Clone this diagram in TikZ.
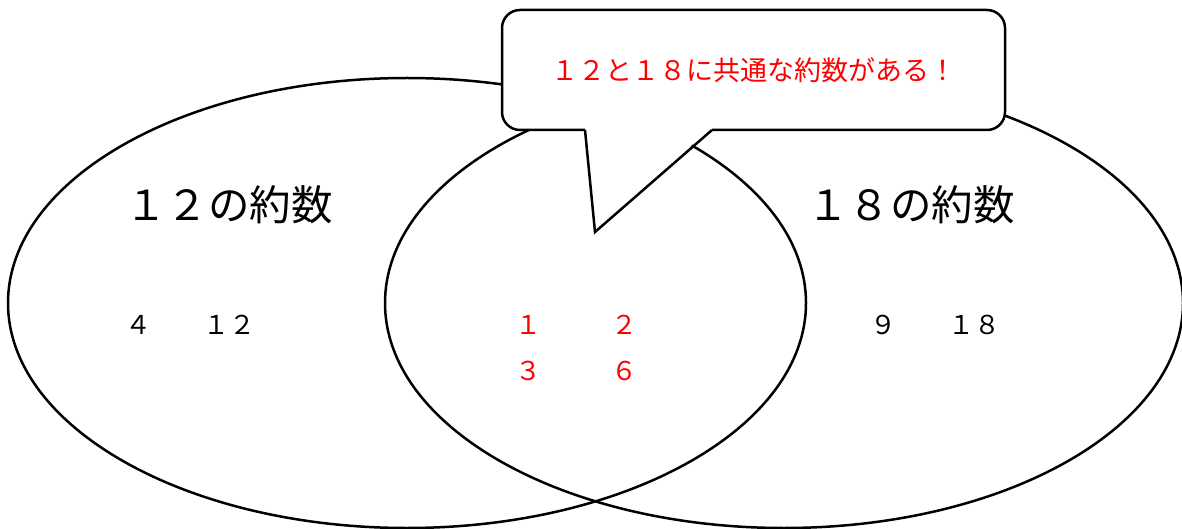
\documentclass[tikz,border=0pt]{standalone}
\usepackage{fontspec}
\newfontfamily\jp{Noto Sans CJK JP}
\usetikzlibrary{shapes.geometric}
\tikzset{
  venn/.style={ellipse, draw=black, line width=2.5pt, minimum width=798pt, minimum height=450pt, inner sep=0pt},
  heading/.style={inner sep=0pt, font=\jp\fontsize{41.5}{41.5}\selectfont},
  num/.style={inner sep=0pt, font=\jp\fontsize{26}{26}\selectfont},
  rednum/.style={num, text=red},
  callbox/.style={draw=black, fill=white, line width=2.5pt, rounded corners=18pt, minimum width=503pt, minimum height=120pt, inner sep=0pt, text=red, font=\jp\fontsize{27}{27}\selectfont},
  callline/.style={draw=black, line width=2.5pt, line join=miter}
}
\begin{document}
\begin{tikzpicture}[x=1pt,y=1pt]
\useasboundingbox (0,0) rectangle (1182,528);
\node[venn] (A) at (407,225) {};
\node[venn] (B) at (784,225) {};
\node[heading] (hA) at (229,323) {１２の約数};
\node[heading] (hB) at (911,323) {１８の約数};
\node[num] (nA) at (190,203) {４　　１２};
\node[num] (nB) at (935,203) {９　　１８};
\node[rednum] (c1) at (528,203) {１};
\node[rednum] (c2) at (624,203) {２};
\node[rednum] (c3) at (528,157) {３};
\node[rednum] (c6) at (624,157) {６};
\node[callbox] (call) at (753.5,458) {１２と１８に共通な約数がある！};
\coordinate (tip) at (595,296);
\coordinate (pl) at (585,398);
\coordinate (pr) at (712,398);
\fill[white] ([yshift=3pt]pl) -- (tip) -- ([yshift=3pt]pr) -- cycle;
\fill[white] ([yshift=-1pt]pl) rectangle ([yshift=3pt]pr);
\draw[callline] (pl) -- (tip) -- (pr);
\end{tikzpicture}
\end{document}
